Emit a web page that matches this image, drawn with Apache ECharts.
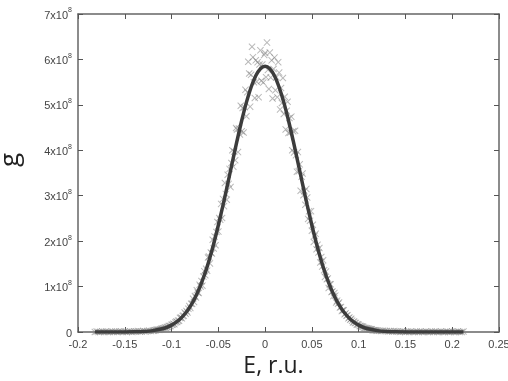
<!DOCTYPE html>
<html>
<head>
<meta charset="utf-8">
<script src="https://cdn.jsdelivr.net/npm/echarts@6/dist/echarts.min.js"></script>
<style>
html,body{margin:0;padding:0;background:#fff;}
#chart{width:508px;height:381px;}
</style>
</head>
<body>
<div id="chart"></div>
<script>
// Values of g are in units of 1e8
var tailLeftE = [-0.182,-0.180,-0.178,-0.176,-0.174,-0.172,-0.170,-0.168,-0.166,-0.164,-0.162,-0.160,-0.158,-0.156,-0.154,-0.152,
 -0.150,-0.148,-0.146,-0.144,-0.142,-0.140,-0.138,-0.136,-0.134,-0.132,-0.130,-0.128,-0.126,-0.124,-0.122];
var tailLeftG = [0.00,0.01,0.00,0.00,0.01,0.00,0.01,0.00,0.00,0.01,0.00,0.01,0.00,0.01,0.01,0.00,
 0.01,0.00,0.01,0.01,0.00,0.01,0.01,0.02,0.01,0.01,0.02,0.01,0.02,0.03,0.02];
var leftE = [-0.120,-0.119,-0.118,-0.117,-0.116,-0.115,-0.114,-0.113,-0.112,-0.111,
 -0.110,-0.109,-0.108,-0.107,-0.106,-0.105,-0.104,-0.103,-0.102,-0.101,
 -0.100,-0.099,-0.098,-0.097,-0.096,-0.095,-0.094,-0.093,-0.092,-0.091,
 -0.090,-0.089,-0.088,-0.087,-0.086,-0.085,-0.084,-0.083,-0.082,-0.081,
 -0.080,-0.079,-0.078,-0.077,-0.076,-0.075,-0.074,-0.073,-0.072,-0.071,
 -0.070,-0.069,-0.068,-0.067,-0.066,-0.065,-0.064,-0.063,-0.062,-0.061,
 -0.060,-0.059,-0.058,-0.057,-0.056,-0.055,-0.054,-0.053,-0.052,-0.051,
 -0.050,-0.049,-0.048,-0.047,-0.046,-0.045,-0.044,-0.043,-0.042,-0.041,
 -0.040,-0.039,-0.038,-0.037,-0.036,-0.035,-0.034,-0.033,-0.032,-0.031,
 -0.030,-0.029,-0.028,-0.027,-0.026,-0.025,-0.024,-0.023,-0.022,-0.021,
 -0.020,-0.019,-0.018,-0.017,-0.016,-0.015,-0.014,-0.013,-0.012,-0.011,
 -0.010,-0.009,-0.008,-0.007,-0.006,-0.005,-0.004,-0.003,-0.002,-0.001];
var leftG = [0.03,0.03,0.04,0.04,0.05,0.05,0.05,0.05,0.06,0.07,
 0.07,0.08,0.08,0.10,0.09,0.11,0.11,0.13,0.13,0.13,
 0.16,0.16,0.18,0.17,0.21,0.23,0.22,0.25,0.25,0.31,
 0.32,0.30,0.35,0.36,0.43,0.40,0.46,0.43,0.51,0.57,
 0.53,0.62,0.62,0.73,0.66,0.79,0.76,0.92,0.87,0.86,
 1.04,1.00,1.12,1.02,1.22,1.34,1.25,1.39,1.35,1.64,
 1.66,1.51,1.75,1.73,2.03,1.84,2.10,1.91,2.20,2.42,
 2.21,2.51,2.47,2.82,2.51,2.93,2.77,3.28,3.04,2.91,
 3.46,3.26,3.59,3.19,3.72,4.00,3.64,3.97,3.78,4.49,
 4.46,3.96,4.48,4.35,4.98,4.42,4.93,4.39,4.95,5.33,
 4.75,5.28,5.95,5.69,4.96,5.66,6.28,6.05,5.50,5.15,
 5.98,5.51,5.94,5.17,5.89,6.20,5.53,5.89,5.49,6.10];
var rightE = [0.000,0.001,0.002,0.003,0.004,0.005,0.006,0.007,0.008,0.009,
 0.010,0.011,0.012,0.013,0.014,0.015,0.016,0.017,0.018,0.019,
 0.020,0.021,0.022,0.023,0.024,0.025,0.026,0.027,0.028,0.029,
 0.030,0.031,0.032,0.033,0.034,0.035,0.036,0.037,0.038,0.039,
 0.040,0.041,0.042,0.043,0.044,0.045,0.046,0.047,0.048,0.049,
 0.050,0.051,0.052,0.053,0.054,0.055,0.056,0.057,0.058,0.059,
 0.060,0.061,0.062,0.063,0.064,0.065,0.066,0.067,0.068,0.069,
 0.070,0.071,0.072,0.073,0.074,0.075,0.076,0.077,0.078,0.079,
 0.080,0.081,0.082,0.083,0.084,0.085,0.086,0.087,0.088,0.089,
 0.090,0.091,0.092,0.093,0.094,0.095,0.096,0.097,0.098,0.099,
 0.100,0.101,0.102,0.103,0.104,0.105,0.106,0.107,0.108,0.109,
 0.110,0.111,0.112,0.113,0.114,0.115,0.116,0.117,0.118,0.119,
 0.120];
var rightG = [6.14,5.61,6.37,5.77,5.35,6.15,5.60,5.98,5.14,5.79,
 6.04,5.32,5.61,5.17,5.94,5.71,4.90,5.37,5.04,5.59,
 4.80,5.18,4.46,4.87,5.07,4.38,4.71,4.39,4.74,4.00,
 4.42,3.95,4.43,3.89,3.53,3.96,3.54,3.69,3.11,3.42,
 3.49,3.01,3.10,2.80,3.15,2.96,2.49,2.66,2.45,2.66,
 2.23,2.36,1.98,2.12,2.16,1.82,1.92,1.75,1.85,1.53,
 1.65,1.44,1.58,1.36,1.21,1.33,1.16,1.18,0.97,1.05,
 1.05,0.88,0.89,0.79,0.86,0.80,0.65,0.69,0.62,0.65,
 0.54,0.55,0.46,0.48,0.48,0.39,0.41,0.36,0.37,0.30,
 0.32,0.27,0.29,0.25,0.21,0.23,0.20,0.20,0.16,0.17,
 0.16,0.13,0.13,0.12,0.12,0.11,0.09,0.09,0.08,0.08,
 0.07,0.07,0.06,0.06,0.06,0.04,0.04,0.04,0.04,0.03,
 0.03];
var tailRightE = [0.122,0.124,0.126,0.128,0.130,0.132,0.134,0.136,0.138,0.140,
 0.142,0.144,0.146,0.148,0.150,0.152,0.154,0.156,0.158,0.160,
 0.162,0.164,0.166,0.168,0.170,0.172,0.174,0.176,0.178,0.180,
 0.182,0.184,0.186,0.188,0.190,0.192,0.194,0.196,0.198,0.200,
 0.202,0.204,0.206,0.208,0.210,0.212];
var tailRightG = [0.03,0.02,0.03,0.02,0.02,0.01,0.02,0.01,0.02,0.01,
 0.01,0.00,0.01,0.01,0.00,0.01,0.00,0.01,0.00,0.00,
 0.01,0.00,0.01,0.00,0.00,0.01,0.00,0.00,0.01,0.00,
 0.01,0.00,0.00,0.01,0.00,0.00,0.01,0.00,0.00,0.01,
 0.00,0.00,0.01,0.00,0.00,0.01];
var fitE = [-0.182,-0.17,-0.16,-0.15,-0.14,-0.13,-0.12,-0.11,-0.105,-0.10,-0.095,-0.09,-0.085,-0.08,-0.075,-0.07,-0.065,-0.06,-0.055,-0.05,-0.045,-0.04,-0.035,-0.03,-0.025,-0.02,-0.015,-0.01,-0.005,0,
 0.005,0.01,0.015,0.02,0.025,0.03,0.035,0.04,0.045,0.05,0.055,0.06,0.065,0.07,0.075,0.08,0.085,0.09,0.095,0.10,0.105,0.11,0.12,0.13,0.14,0.15,0.16,0.17,0.18,0.19,0.20,0.212];
var fitG = [0,0,0.0003,0.0014,0.0045,0.0122,0.0304,0.0704,0.1043,0.152,0.2166,0.304,0.418,0.565,0.750,0.977,1.250,1.57,1.938,2.35,2.792,3.26,3.740,4.21,4.656,5.055,5.388,5.64,5.797,5.85,
 5.797,5.64,5.388,5.055,4.656,4.21,3.740,3.26,2.792,2.35,1.938,1.57,1.250,0.977,0.750,0.565,0.418,0.304,0.2166,0.152,0.1043,0.0704,0.0304,0.0122,0.0045,0.0014,0.0003,0,0,0,0,0];
var xTicks = {min:-0.2, max:0.25, interval:0.05};
var yTicks = {min:0, max:7, interval:1};

function zip(a,b){return a.map(function(e,i){return [e,b[i]];});}
var scatterData = [].concat(zip(tailLeftE,tailLeftG), zip(leftE,leftG), zip(rightE,rightG), zip(tailRightE,tailRightG));
var fitData = zip(fitE, fitG);

var chart = echarts.init(document.getElementById('chart'), null, {renderer:'canvas'});
var lineCol = '#666';
var labelFont = 'Liberation Sans';
var tickStyle = {show:true, inside:true, length:5, lineStyle:{color:'#555', width:1}};
var option = {
  animation:false,
  backgroundColor:'#fff',
  grid:{left:78, top:14, right:9, bottom:49, outerBoundsMode:'none', containLabel:false},
  xAxis:[{
    type:'value', min:xTicks.min, max:xTicks.max, interval:xTicks.interval,
    axisLine:{show:true, onZero:false, lineStyle:{color:lineCol, width:1.5}},
    axisTick:tickStyle,
    splitLine:{show:false},
    axisLabel:{color:'#444', fontSize:11, fontFamily:labelFont, margin:7, hideOverlap:false,
      formatter:function(v){return String(parseFloat(v.toFixed(2)));}},
    name:'E, r.u.', nameLocation:'middle', nameGap:22,
    nameTextStyle:{color:'#222', fontSize:23, fontFamily:'Open Sans', padding:[0,30,0,0]}
  },{
    type:'value', position:'top', min:xTicks.min, max:xTicks.max, interval:xTicks.interval,
    axisLine:{show:true, onZero:false, lineStyle:{color:lineCol, width:1.5}},
    axisTick:tickStyle, axisLabel:{show:false}, splitLine:{show:false}
  }],
  yAxis:[{
    type:'value', min:yTicks.min, max:yTicks.max, interval:yTicks.interval,
    axisLine:{show:true, onZero:false, lineStyle:{color:lineCol, width:1.5}},
    axisTick:tickStyle,
    splitLine:{show:false},
    axisLabel:{color:'#444', fontFamily:labelFont, margin:6,
      formatter:function(v){ return v===0 ? '{b|0}' : '{b|'+v+'x10}{s|8}'; },
      rich:{b:{fontSize:11, fontFamily:labelFont, color:'#444', lineHeight:14, verticalAlign:'bottom'},
            s:{fontSize:7, fontFamily:labelFont, color:'#444', lineHeight:14, verticalAlign:'top'}}},
    name:'g', nameLocation:'middle', nameGap:54, nameRotate:90,
    nameTextStyle:{color:'#222', fontSize:26, fontFamily:'Open Sans', padding:[0,0,0,26]}
  },{
    type:'value', position:'right', min:yTicks.min, max:yTicks.max, interval:yTicks.interval,
    axisLine:{show:true, onZero:false, lineStyle:{color:lineCol, width:1.5}},
    axisTick:tickStyle, axisLabel:{show:false}, splitLine:{show:false}
  }],
  series:[{
    type:'scatter', xAxisIndex:0, yAxisIndex:0,
    data:scatterData,
    symbol:'path://M0,1L1,0L5,4L9,0L10,1L6,5L10,9L9,10L5,6L1,10L0,9L4,5Z',
    symbolSize:7,
    itemStyle:{color:'rgba(128,128,128,0.7)'},
    z:2
  },{
    type:'line', xAxisIndex:0, yAxisIndex:0,
    data:fitData, smooth:0.3, showSymbol:false, symbol:'none',
    lineStyle:{color:'#3c3c3c', width:3.5},
    z:3
  }]
};
chart.setOption(option);
</script>
</body>
</html>
